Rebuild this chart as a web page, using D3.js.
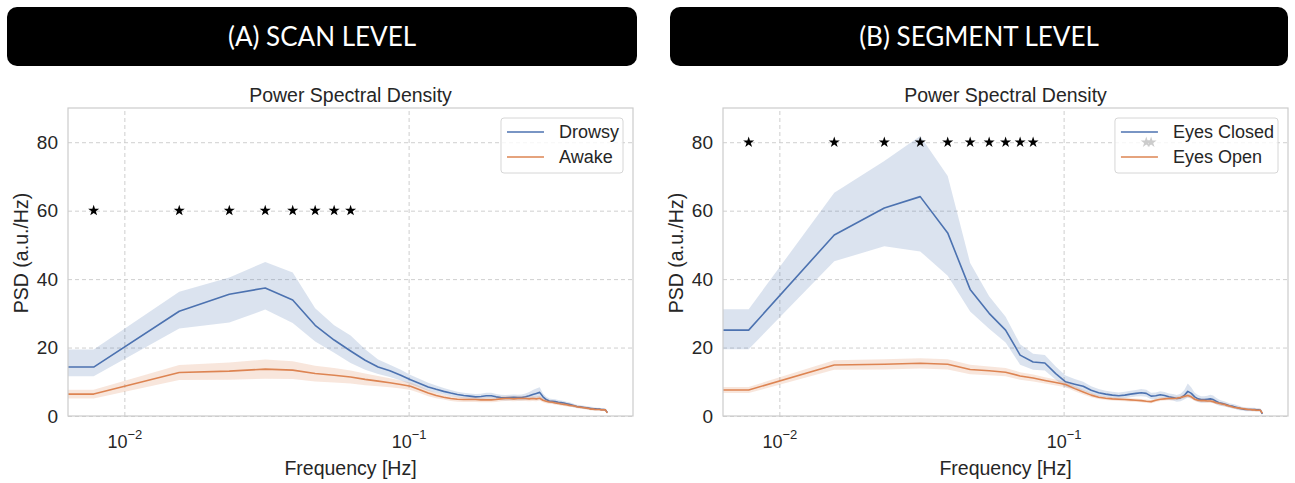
<!DOCTYPE html>
<html>
<head>
<meta charset="utf-8">
<script src="https://cdn.jsdelivr.net/npm/d3@7/dist/d3.min.js"></script>
<style>
  html, body { margin: 0; padding: 0; background: #fff; }
  svg { display: block; }
</style>
</head>
<body>
<svg id="fig" width="1295" height="483"></svg>
<script>
// Frequency bins (Hz) of the power spectral density estimate
const frequencies = [0.0078, 0.0156, 0.0234, 0.0313, 0.0391, 0.0469, 0.0547, 0.0625, 0.0703, 0.0781,
  0.0859, 0.0938, 0.1016, 0.1094, 0.1172, 0.125, 0.1328, 0.1406, 0.1484, 0.1563,
  0.1641, 0.1719, 0.1797, 0.1875, 0.1953, 0.2031, 0.2109, 0.2188, 0.2266, 0.2344,
  0.2422, 0.25, 0.2578, 0.2656, 0.2734, 0.2813, 0.2891, 0.2969, 0.3047, 0.3125,
  0.3203, 0.3281, 0.3359, 0.3438, 0.3516, 0.3594, 0.3672, 0.375, 0.3828, 0.3906,
  0.3984, 0.4063, 0.4141, 0.4219, 0.4297, 0.4375, 0.4453, 0.4531, 0.4609, 0.4688,
  0.4766, 0.4844, 0.4922, 0.5];

// (A) scan level
const drowsyMean = [14.3, 30.6, 35.6, 37.4, 33.9, 26.5, 22.2, 19.0, 16.3, 14.3,
  13.2, 11.9, 10.6, 9.5, 8.5, 7.8, 7.2, 6.7, 6.3, 6.0,
  5.8, 5.6, 5.7, 5.9, 5.9, 5.6, 5.4, 5.3, 5.4, 5.5,
  5.4, 5.4, 5.6, 5.9, 6.3, 6.6, 6.9, 5.6, 4.8, 4.4,
  4.3, 4.2, 4.0, 3.9, 3.8, 3.6, 3.4, 3.2, 3.0, 2.8,
  2.7, 2.6, 2.5, 2.4, 2.3, 2.2, 2.1, 2.1, 2.0, 2.0,
  1.9, 1.9, 1.8, 1.0];
const drowsyHi = [19.4, 36.3, 40.5, 45.0, 41.9, 31.5, 26.5, 23.5, 19.5, 16.5,
  15.0, 13.5, 12.0, 10.8, 9.7, 8.9, 8.2, 7.6, 7.1, 6.8,
  6.6, 6.4, 6.5, 6.8, 6.8, 6.4, 6.2, 6.1, 6.2, 6.3,
  6.2, 6.3, 6.6, 7.0, 7.6, 8.0, 8.4, 6.6, 5.6, 5.1,
  5.0, 4.9, 4.7, 4.5, 4.4, 4.2, 4.0, 3.8, 3.5, 3.3,
  3.2, 3.1, 3.0, 2.9, 2.8, 2.7, 2.6, 2.5, 2.4, 2.4,
  2.3, 2.3, 2.2, 1.3];
const drowsyLo = [11.6, 25.6, 27.3, 31.1, 27.2, 21.8, 18.5, 15.5, 13.5, 12.3,
  11.4, 10.4, 9.3, 8.3, 7.4, 6.8, 6.3, 5.8, 5.5, 5.2,
  5.0, 4.9, 4.9, 5.1, 5.1, 4.8, 4.6, 4.5, 4.6, 4.7,
  4.6, 4.6, 4.7, 4.9, 5.1, 5.3, 5.5, 4.7, 4.1, 3.8,
  3.7, 3.6, 3.4, 3.3, 3.2, 3.0, 2.9, 2.7, 2.5, 2.4,
  2.3, 2.2, 2.1, 2.0, 1.9, 1.8, 1.7, 1.7, 1.6, 1.6,
  1.5, 1.5, 1.4, 0.7];
const awakeMean = [6.4, 12.7, 13.1, 13.7, 13.4, 12.4, 11.9, 11.4, 10.7, 10.2,
  9.7, 9.2, 8.7, 7.7, 6.7, 6.0, 5.5, 5.1, 4.9, 4.8,
  4.8, 4.8, 4.7, 4.7, 4.7, 4.8, 5.0, 5.1, 5.1, 5.0,
  5.1, 5.1, 5.1, 5.0, 5.1, 5.0, 5.2, 4.6, 4.3, 4.1,
  4.0, 3.8, 3.7, 3.5, 3.4, 3.3, 3.1, 3.0, 2.9, 2.7,
  2.6, 2.5, 2.4, 2.3, 2.2, 2.0, 2.0, 1.9, 1.9, 1.9,
  1.8, 1.8, 1.8, 0.9];
const awakeHi = [7.7, 14.9, 15.6, 16.5, 16.0, 14.7, 14.0, 13.3, 12.4, 11.7,
  11.0, 10.4, 9.8, 8.7, 7.6, 6.8, 6.2, 5.8, 5.6, 5.5,
  5.5, 5.5, 5.4, 5.4, 5.4, 5.5, 5.7, 5.8, 5.8, 5.7,
  5.8, 5.8, 5.8, 5.7, 5.8, 5.7, 5.9, 5.2, 4.9, 4.6,
  4.5, 4.3, 4.2, 4.0, 3.9, 3.8, 3.6, 3.4, 3.3, 3.1,
  3.0, 2.9, 2.8, 2.7, 2.6, 2.4, 2.4, 2.3, 2.2, 2.2,
  2.1, 2.1, 2.1, 1.2];
const awakeLo = [5.1, 10.5, 10.6, 10.9, 10.8, 10.1, 9.8, 9.5, 9.0, 8.7,
  8.4, 8.0, 7.6, 6.7, 5.8, 5.2, 4.8, 4.4, 4.2, 4.1,
  4.1, 4.1, 4.0, 4.0, 4.0, 4.1, 4.3, 4.4, 4.4, 4.3,
  4.4, 4.4, 4.4, 4.3, 4.4, 4.3, 4.5, 4.0, 3.7, 3.6,
  3.5, 3.3, 3.2, 3.0, 2.9, 2.8, 2.6, 2.6, 2.5, 2.3,
  2.2, 2.1, 2.0, 1.9, 1.8, 1.6, 1.6, 1.5, 1.6, 1.6,
  1.5, 1.5, 1.5, 0.6];

// (B) segment level
const closedMean = [25.1, 52.9, 60.8, 64.1, 53.5, 37.0, 30.0, 25.1, 17.8, 15.8,
  15.5, 12.4, 10.0, 9.3, 8.7, 7.5, 6.8, 6.4, 6.1, 5.9,
  6.1, 6.4, 6.6, 6.8, 6.6, 5.8, 5.9, 6.2, 6.0, 5.6,
  5.4, 5.1, 5.3, 6.0, 7.2, 6.6, 5.6, 5.0, 4.8, 4.8,
  4.9, 5.0, 4.8, 4.3, 3.9, 3.7, 3.5, 3.3, 3.0, 2.9,
  2.7, 2.5, 2.3, 2.1, 2.0, 1.9, 1.9, 1.9, 1.9, 1.9,
  1.8, 1.8, 1.7, 0.6];
const closedHi = [31.2, 65.2, 74.5, 81.8, 70.1, 44.7, 35.0, 29.0, 21.0, 18.2,
  17.8, 14.5, 11.8, 10.8, 10.0, 8.7, 7.9, 7.4, 7.1, 6.9,
  7.1, 7.4, 7.6, 7.9, 7.7, 6.8, 6.9, 7.2, 7.0, 6.6,
  6.4, 6.1, 6.5, 7.5, 9.5, 8.3, 6.8, 6.1, 5.8, 5.8,
  5.9, 6.2, 6.0, 5.3, 4.8, 4.5, 4.3, 4.0, 3.7, 3.6,
  3.4, 3.2, 3.0, 2.7, 2.6, 2.5, 2.5, 2.4, 2.4, 2.4,
  2.3, 2.3, 2.2, 0.9];
const closedLo = [19.5, 45.2, 49.6, 48.1, 41.0, 30.5, 25.5, 21.5, 15.0, 13.5,
  13.3, 10.6, 8.4, 7.9, 7.4, 6.4, 5.8, 5.5, 5.2, 5.0,
  5.2, 5.5, 5.7, 5.8, 5.6, 4.9, 5.0, 5.3, 5.1, 4.7,
  4.5, 4.2, 4.3, 4.8, 5.4, 5.2, 4.6, 4.1, 3.9, 3.9,
  4.0, 4.0, 3.8, 3.4, 3.1, 2.9, 2.8, 2.6, 2.4, 2.3,
  2.1, 1.9, 1.7, 1.6, 1.5, 1.4, 1.4, 1.4, 1.4, 1.4,
  1.3, 1.3, 1.2, 0.3];
const openMean = [7.6, 14.9, 15.1, 15.4, 15.1, 13.6, 13.2, 12.8, 11.7, 11.1,
  10.4, 9.8, 9.2, 8.0, 7.0, 6.1, 5.5, 5.2, 5.0, 4.9,
  4.8, 4.7, 4.6, 4.5, 4.3, 4.2, 4.6, 4.9, 5.0, 5.1,
  5.1, 5.2, 5.4, 5.7, 6.0, 5.6, 4.9, 4.6, 4.5, 4.5,
  4.4, 4.4, 4.2, 3.9, 3.7, 3.5, 3.4, 3.1, 2.9, 2.7,
  2.5, 2.4, 2.3, 2.2, 2.1, 2.0, 1.9, 1.9, 1.8, 1.8,
  1.7, 1.7, 1.7, 0.8];
const openHi = [8.5, 16.3, 16.6, 16.9, 16.6, 15.0, 14.5, 14.0, 12.8, 12.1,
  11.3, 10.7, 10.0, 8.8, 7.7, 6.7, 6.0, 5.7, 5.5, 5.4,
  5.3, 5.2, 5.1, 5.0, 4.8, 4.7, 5.1, 5.4, 5.5, 5.6,
  5.6, 5.7, 5.9, 6.2, 6.6, 6.2, 5.4, 5.1, 5.0, 5.0,
  4.9, 4.9, 4.7, 4.4, 4.2, 4.0, 3.9, 3.6, 3.3, 3.1,
  2.9, 2.8, 2.7, 2.6, 2.5, 2.4, 2.3, 2.3, 2.2, 2.2,
  2.1, 2.1, 2.1, 1.0];
const openLo = [6.7, 13.5, 13.6, 13.9, 13.6, 12.2, 11.9, 11.6, 10.6, 10.1,
  9.5, 8.9, 8.4, 7.2, 6.3, 5.5, 5.0, 4.7, 4.5, 4.4,
  4.3, 4.2, 4.1, 4.0, 3.8, 3.7, 4.1, 4.4, 4.5, 4.6,
  4.6, 4.7, 4.9, 5.2, 5.4, 5.0, 4.4, 4.1, 4.0, 4.0,
  3.9, 3.9, 3.7, 3.4, 3.2, 3.0, 2.9, 2.6, 2.5, 2.3,
  2.1, 2.0, 1.9, 1.8, 1.7, 1.6, 1.5, 1.5, 1.4, 1.4,
  1.3, 1.3, 1.3, 0.6];

// Frequencies with a significant group difference, and the height of their markers
const scanStarFreqs = [0.0078, 0.0156, 0.0234, 0.0313, 0.0391, 0.0469, 0.0547, 0.0625];
const scanStarLevel = 60;
const segmentStarFreqs = [0.0078, 0.0156, 0.0234, 0.0313, 0.0391, 0.0469, 0.0547, 0.0625, 0.0703, 0.0781, 0.1953, 0.2031];
const segmentStarLevel = 80;

const yTicks = [0, 20, 40, 60, 80];
const xTicks = [0.01, 0.1];
const xTickExponents = ["\u22122", "\u22121"];
const yMax = 90;

const BLUE = "#4c72b0", ORANGE = "#dd8452";
const TXT = "#262626", GRID = "#cfcfcf", FONT = "'Liberation Sans', Arial, sans-serif";

const panels = [
  { header: "(A) SCAN LEVEL", bar: { x: 7, y: 7, w: 630, h: 59 },
    box: { l: 68, r: 633, t: 108, b: 416 },
    series: [
      { name: "Drowsy", color: BLUE, mean: drowsyMean, lo: drowsyLo, hi: drowsyHi },
      { name: "Awake", color: ORANGE, mean: awakeMean, lo: awakeLo, hi: awakeHi } ],
    stars: scanStarFreqs, starLevel: scanStarLevel },
  { header: "(B) SEGMENT LEVEL", bar: { x: 670, y: 7, w: 618, h: 59 },
    box: { l: 723, r: 1288, t: 108, b: 416 },
    series: [
      { name: "Eyes Closed", color: BLUE, mean: closedMean, lo: closedLo, hi: closedHi },
      { name: "Eyes Open", color: ORANGE, mean: openMean, lo: openLo, hi: openHi } ],
    stars: segmentStarFreqs, starLevel: segmentStarLevel }
];

const svg = d3.select("#fig");

// x limits: data range in log space padded by 5% on each side
const logExt = d3.extent(frequencies).map(Math.log10);
const pad = (logExt[1] - logExt[0]) * 0.05;
const xDomain = [Math.pow(10, logExt[0] - pad), Math.pow(10, logExt[1] + pad)];

panels.forEach((p, pi) => {
  const { l, r, t, b } = p.box;
  const x = d3.scaleLog().domain(xDomain).range([l, r]);
  const y = d3.scaleLinear().domain([0, yMax]).range([b, t]);

  // header bar
  svg.append("rect")
    .attr("x", p.bar.x).attr("y", p.bar.y).attr("width", p.bar.w).attr("height", p.bar.h)
    .attr("rx", 10).attr("fill", "#000");
  svg.append("text")
    .attr("x", p.bar.x + p.bar.w / 2).attr("y", p.bar.y + p.bar.h / 2 + 9)
    .attr("text-anchor", "middle").attr("fill", "#fff")
    .attr("font-family", "Lato, 'Open Sans', sans-serif").attr("font-size", 26)
    .text(p.header);

  const g = svg.append("g");

  // grid and tick labels
  const yAxis = d3.axisLeft(y).tickValues(yTicks).tickSize(-(r - l)).tickPadding(10).tickFormat(d3.format("d"));
  const gy = g.append("g").attr("transform", `translate(${l},0)`).call(yAxis);
  gy.select(".domain").remove();
  gy.selectAll(".tick line").attr("stroke", GRID).attr("stroke-dasharray", "4,3").attr("stroke-width", 1);
  gy.selectAll(".tick text").attr("fill", TXT).attr("font-family", FONT).attr("font-size", 19);

  const xAxis = d3.axisBottom(x).tickValues(xTicks).tickSize(-(b - t)).tickPadding(0).tickFormat(() => "");
  const gx = g.append("g").attr("transform", `translate(0,${b})`).call(xAxis);
  gx.select(".domain").remove();
  gx.selectAll(".tick line").attr("stroke", GRID).attr("stroke-dasharray", "4,3").attr("stroke-width", 1);
  gx.selectAll(".tick text").each(function (d, i) {
    const tx = d3.select(this).attr("fill", TXT).attr("font-family", FONT).attr("font-size", 18)
      .attr("y", 32).attr("dy", 0).attr("text-anchor", "middle");
    tx.append("tspan").text("10");
    tx.append("tspan").attr("dy", -9).attr("font-size", 13).text(xTickExponents[i]);
  });

  // clip region
  const clipId = "clip" + pi;
  svg.append("clipPath").attr("id", clipId).append("rect")
    .attr("x", l).attr("y", t).attr("width", r - l).attr("height", b - t);
  const plot = g.append("g").attr("clip-path", `url(#${clipId})`);

  // series: the lowest bin is carried flat to the left edge of the axis
  p.series.forEach(s => {
    const pts = frequencies.map((f, i) => ({ f, m: s.mean[i], lo: s.lo[i], hi: s.hi[i] }));
    pts.unshift({ f: xDomain[0], m: s.mean[0], lo: s.lo[0], hi: s.hi[0] });
    plot.append("path").datum(pts)
      .attr("d", d3.area().x(d => x(d.f)).y0(d => y(d.lo)).y1(d => y(d.hi)))
      .attr("fill", s.color).attr("fill-opacity", 0.2);
    plot.append("path").datum(pts)
      .attr("d", d3.line().x(d => x(d.f)).y(d => y(d.m)))
      .attr("fill", "none").attr("stroke", s.color).attr("stroke-width", 1.6)
      .attr("stroke-linejoin", "round");
  });

  // significance markers
  plot.selectAll(".star").data(p.stars).enter().append("path")
    .attr("transform", f => `translate(${x(f)},${y(p.starLevel)})`)
    .attr("d", d3.symbol(d3.symbolStar, 38))
    .attr("fill", "#000");

  // spines
  g.append("rect").attr("x", l).attr("y", t).attr("width", r - l).attr("height", b - t)
    .attr("fill", "none").attr("stroke", "#cccccc").attr("stroke-width", 1.2);

  // titles
  g.append("text").attr("x", (l + r) / 2).attr("y", t - 6).attr("text-anchor", "middle")
    .attr("fill", TXT).attr("font-family", FONT).attr("font-size", 19.5).text("Power Spectral Density");
  g.append("text").attr("x", (l + r) / 2).attr("y", 475).attr("text-anchor", "middle")
    .attr("fill", TXT).attr("font-family", FONT).attr("font-size", 19.5).text("Frequency [Hz]");
  g.append("text").attr("transform", `translate(${l - 40},${(t + b) / 2 - 9}) rotate(-90)`)
    .attr("text-anchor", "middle").attr("fill", TXT).attr("font-family", FONT).attr("font-size", 19.5)
    .text("PSD (a.u./Hz)");

  // legend
  const leg = g.append("g");
  const legBox = leg.append("rect").attr("fill", "#fff").attr("fill-opacity", 0.8)
    .attr("stroke", "#d6d6d6").attr("stroke-width", 1).attr("rx", 3);
  let maxW = 0;
  p.series.forEach((s, i) => {
    const yy = t + 24 + i * 25;
    leg.append("line").attr("stroke", s.color).attr("stroke-width", 1.6)
      .attr("x1", 0).attr("x2", 37).attr("y1", yy).attr("y2", yy);
    const tx = leg.append("text").attr("x", 52).attr("y", yy + 6).attr("fill", TXT)
      .attr("font-family", FONT).attr("font-size", 18).text(s.name);
    maxW = Math.max(maxW, tx.node().getComputedTextLength());
  });
  const boxW = 52 + maxW + 10;
  const bx = r - 10 - boxW + 6;
  leg.attr("transform", `translate(${bx},0)`);
  legBox.attr("x", -6).attr("y", t + 10).attr("width", boxW).attr("height", 55);
});
</script>
</body>
</html>
